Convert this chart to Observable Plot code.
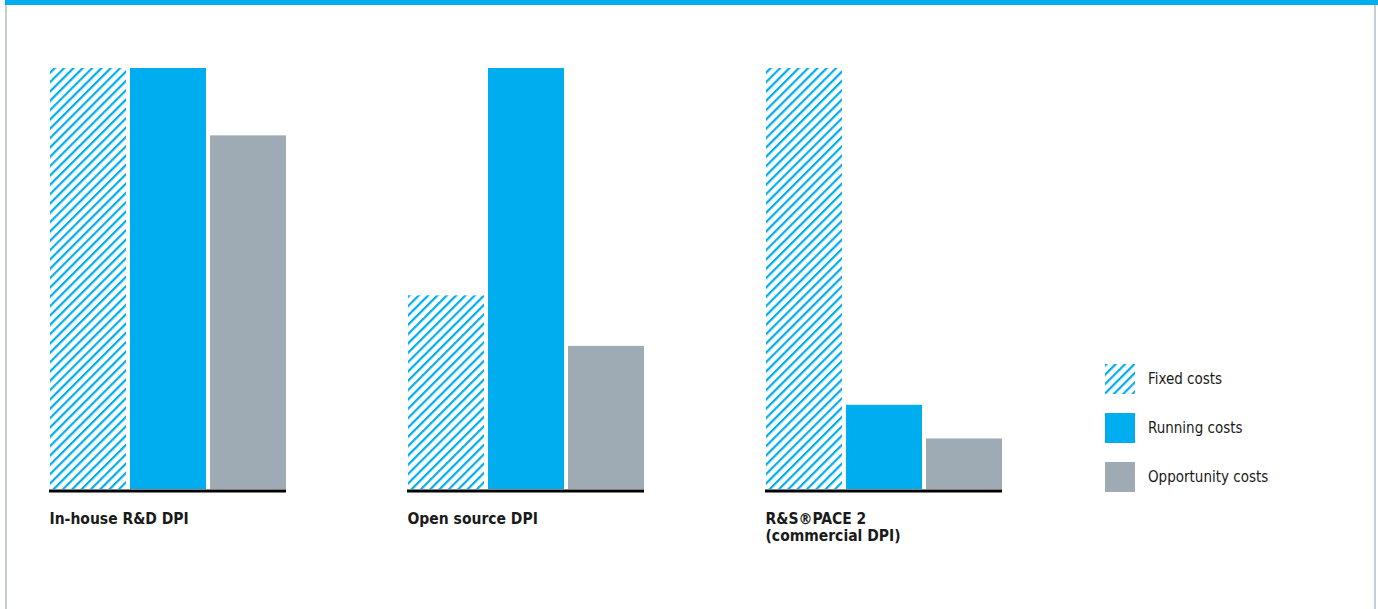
<!DOCTYPE html>
<html>
<head>
<meta charset="utf-8">
<script src="https://cdn.jsdelivr.net/npm/d3@7"></script>
<script src="https://cdn.jsdelivr.net/npm/@observablehq/plot@0.6"></script>
<style>
  html, body { margin: 0; padding: 0; background: #fff; }
  body { width: 1378px; height: 609px; position: relative; overflow: hidden;
         font-family: "DejaVu Sans Condensed", "Liberation Sans Narrow", sans-serif; }
  #frame { position: absolute; left: 5px; top: 0; width: 1371px; height: 609px;
           border-left: 2px solid #c8cfd4; border-right: 2px solid #c8cfd4; box-sizing: border-box; }
  #topbar { position: absolute; left: 5px; top: 0; width: 1373px; height: 5px; background: #00aeef; }
  #chart { position: absolute; left: 0; top: 0; }
  #legend { position: absolute; left: 1105px; top: 364px; }
  .item { display: flex; align-items: center; height: 30px; margin-bottom: 19px; }
  .item svg { width: 30px; height: 30px; display: block; }
  .item span { margin-left: 13px; font-size: 15px; color: #1a1a1a; }
</style>
</head>
<body>
<svg width="0" height="0" style="position:absolute">
  <defs>
    <pattern id="hatch" patternUnits="userSpaceOnUse" width="6.6" height="6.6" patternTransform="rotate(45)">
      <rect x="0" y="0" width="2.2" height="6.6" fill="#00aeef"></rect>
    </pattern>
  </defs>
</svg>
<div id="frame"></div>
<div id="topbar"></div>
<div id="chart"></div>
<div id="legend"></div>
<script>
const groups = ["In-house R&D DPI", "Open source DPI", "R&S®PACE 2\n(commercial DPI)"];
const costTypes = ["Fixed costs", "Running costs", "Opportunity costs"];
const fixedCosts = [100, 46, 100];
const runningCosts = [100, 100, 20];
const opportunityCosts = [84, 34, 12];

const fills = ["url(#hatch)", "#00aeef", "#9eabb4"];

const series = [fixedCosts, runningCosts, opportunityCosts];
const table = [];
groups.forEach((g, i) => {
  costTypes.forEach((t, j) => table.push({group: g, type: t, value: series[j][i]}));
});

const chart = Plot.plot({
  width: 1378,
  height: 609,
  marginLeft: 49,
  marginRight: 376,
  marginTop: 68,
  marginBottom: 120,
  style: {fontFamily: '"DejaVu Sans Condensed", "Liberation Sans Narrow", sans-serif', background: "transparent"},
  fx: {domain: groups, paddingInner: 0.338, paddingOuter: 0, axis: null},
  x: {domain: costTypes, paddingInner: 0.05, paddingOuter: 0, axis: null},
  y: {domain: [0, 100], axis: null},
  color: {domain: costTypes, range: fills},
  marks: [
    Plot.barY(table, {fx: "group", x: "type", y: "value", fill: "type"}),
    Plot.ruleY([0], {stroke: "#000", strokeWidth: 3, dy: 1.5}),
    Plot.text(groups, {fx: d => d, text: d => d, frameAnchor: "bottom-left", lineAnchor: "top",
      dy: 22, fontWeight: "bold", fontSize: 15.5, lineHeight: 1.12, fill: "#1a1a1a"})
  ]
});
document.getElementById("chart").appendChild(chart);

const legend = document.getElementById("legend");
costTypes.forEach((t, j) => {
  const item = document.createElement("div");
  item.className = "item";
  item.innerHTML = `<svg viewBox="0 0 30 30"><rect width="30" height="30" fill="${fills[j]}"></rect></svg><span>${t}</span>`;
  legend.appendChild(item);
});
</script>
</body>
</html>
